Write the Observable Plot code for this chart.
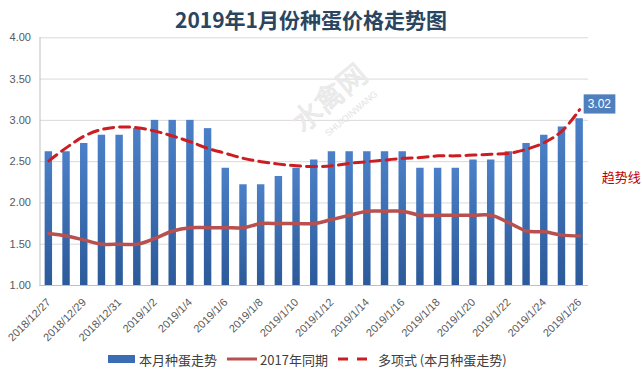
<!DOCTYPE html>
<html><head><meta charset="utf-8">
<script src="https://cdn.jsdelivr.net/npm/d3@7"></script>
<script src="https://cdn.jsdelivr.net/npm/@observablehq/plot@0.6"></script>
<style>
body{margin:0;background:#fff;}
#wrap{position:relative;width:642px;height:385px;overflow:hidden;}
#chart{position:absolute;left:0;top:0;}
#title{position:absolute;left:0;top:4px;width:622px;text-align:center;font:bold 21px "Noto Sans CJK SC",sans-serif;color:#2a4560;line-height:30px;}
#legend{position:absolute;left:108px;top:349px;height:20px;display:flex;align-items:center;font:13px "Noto Sans CJK SC",sans-serif;color:#404040;white-space:nowrap;}
#legend svg{display:block;}
</style></head><body>
<svg width="0" height="0" style="position:absolute"><defs>
<linearGradient id="barGrad" x1="0" y1="0" x2="0" y2="1"><stop offset="0" stop-color="#4b80c8"/><stop offset="1" stop-color="#2c5a9a"/></linearGradient>
</defs></svg>
<div id="wrap"><div id="chart"></div><div id="title"></div><div id="legend"></div></div>
<script>
const titleText = "2019年1月份种蛋价格走势图";
const dates = ["2018/12/27","2018/12/28","2018/12/29","2018/12/30","2018/12/31",
  "2019/1/1","2019/1/2","2019/1/3","2019/1/4","2019/1/5","2019/1/6","2019/1/7","2019/1/8","2019/1/9","2019/1/10",
  "2019/1/11","2019/1/12","2019/1/13","2019/1/14","2019/1/15","2019/1/16","2019/1/17","2019/1/18","2019/1/19","2019/1/20",
  "2019/1/21","2019/1/22","2019/1/23","2019/1/24","2019/1/25","2019/1/26"];
const eggPrice = [2.62,2.62,2.72,2.82,2.82,
  2.90,3.00,3.00,3.00,2.90,2.42,2.22,2.22,2.32,2.42,
  2.52,2.62,2.62,2.62,2.62,2.62,2.42,2.42,2.42,2.52,
  2.52,2.62,2.72,2.82,2.92,3.02];
const lastYear = [1.63,1.60,1.55,1.50,1.50,
  1.50,1.57,1.66,1.70,1.70,1.70,1.70,1.75,1.75,1.75,
  1.75,1.80,1.85,1.90,1.90,1.90,1.85,1.85,1.85,1.85,
  1.85,1.76,1.66,1.65,1.61,1.60];
const trend = [2.51,2.67,2.81,2.89,2.92,
  2.91,2.87,2.81,2.74,2.66,2.60,2.54,2.50,2.47,2.45,
  2.44,2.45,2.48,2.50,2.52,2.54,2.55,2.57,2.57,2.58,
  2.59,2.60,2.65,2.73,2.87,3.13];
const yTicks = [1.0,1.5,2.0,2.5,3.0,3.5,4.0];
const xTickLabels = dates.filter((d, i) => i % 2 === 0);
const seriesNames = ["本月种蛋走势","2017年同期","多项式 (本月种蛋走势)"];
const trendNote = "趋势线";
const trendNoteValue = 2.30;
const watermarkText = "水禽网";
const watermarkSub = "SHUIQINWANG";

const rows = dates.map((d, i) => ({date: d, price: eggPrice[i], prev: lastYear[i], trend: trend[i]}));
const lastRow = [rows[rows.length - 1]];
const endLabel = lastRow[0].price.toFixed(2);

document.getElementById("title").textContent = titleText;

const plot = Plot.plot({
  width: 642, height: 345,
  marginTop: 37.3, marginBottom: 60, marginLeft: 39.5, marginRight: 54,
  style: {background: "transparent", fontFamily: "'Liberation Sans','Noto Sans CJK SC',sans-serif"},
  x: {type: "band", domain: dates, paddingInner: 0.58, paddingOuter: 0.29, round: false, label: null},
  y: {domain: [1, 4], label: null},
  marks: [
    Plot.gridY(yTicks, {stroke: "#d9d9d9", strokeOpacity: 1}),
    Plot.text([watermarkText], {frameAnchor: "middle", text: d => d, dx: 16, dy: -63, rotate: -40, fontSize: 29, fill: "#ebebeb", stroke: "#dcdcdc", strokeWidth: 0.6, fontFamily: "'Noto Sans CJK SC',sans-serif"}),
    Plot.text([watermarkSub], {frameAnchor: "middle", text: d => d, dx: 37, dy: -48, rotate: -40, fontSize: 9, fill: "#e2e2e2"}),
    Plot.barY(rows, {x: "date", y1: 1, y2: "price", fill: "url(#barGrad)"}),
    Plot.frame({anchor: "left", stroke: "#bfbfbf"}),
    Plot.ruleY([1], {stroke: "#bfbfbf"}),
    Plot.line(rows, {x: "date", y: "prev", stroke: "#b8504f", strokeWidth: 3.5, curve: "catmull-rom"}),
    Plot.line(rows, {x: "date", y: "trend", stroke: "#cc1d22", strokeWidth: 3, strokeDasharray: "10,6", curve: "catmull-rom"}),
    Plot.axisY(yTicks, {tickFormat: d3.format(".2f"), tickSize: 0, tickPadding: 9, fontSize: 11, fill: "#595959"}),
    Plot.axisX(xTickLabels, {tickRotate: -45, tickSize: 0, tickPadding: 15, fontSize: 11, fill: "#595959", label: null}),
    Plot.text(lastRow, {x: "date", y: "price", text: () => endLabel, dx: 19.7, dy: -14.6, fill: "white", fontSize: 12}),
    Plot.text(lastRow, {x: "date", y: () => trendNoteValue, text: () => trendNote, dx: 22, textAnchor: "start", fill: "#c00000", fontSize: 13, fontFamily: "'Noto Sans CJK SC',sans-serif"})
  ]
});
document.getElementById("chart").append(plot);

// blue box behind the end value label
plot.querySelectorAll("text").forEach(t => {
  if (t.textContent !== endLabel) return;
  const g = t.closest("g");
  if (!g || g.getAttribute("fill") !== "white") return;
  const bb = t.getBBox();
  const r = document.createElementNS("http://www.w3.org/2000/svg", "rect");
  r.setAttribute("x", bb.x - 4);
  r.setAttribute("y", bb.y - 2.6);
  r.setAttribute("width", bb.width + 8);
  r.setAttribute("height", bb.height + 5.2);
  r.setAttribute("fill", "#4f7fbd");
  if (t.getAttribute("transform")) r.setAttribute("transform", t.getAttribute("transform"));
  t.parentNode.insertBefore(r, t);
});

// legend
const legend = document.getElementById("legend");
const sw = (html, w) => `<svg width="${w}" height="12">${html}</svg>`;
legend.innerHTML =
  sw('<rect x="0" y="2" width="27" height="8" fill="#3a6db3"/>', 27) +
  `<span style="margin-left:4px">${seriesNames[0]}</span>` +
  `<span style="margin-left:10px"></span>` + sw('<line x1="0" x2="30" y1="6" y2="6" stroke="#b8504f" stroke-width="3"/>', 30) +
  `<span style="margin-left:3px">${seriesNames[1]}</span>` +
  `<span style="margin-left:10px"></span>` + sw('<line x1="0" x2="30" y1="6" y2="6" stroke="#cc1d22" stroke-width="3" stroke-dasharray="10,9"/>', 30) +
  `<span style="margin-left:10px">${seriesNames[2]}</span>`;
</script>
</body></html>
